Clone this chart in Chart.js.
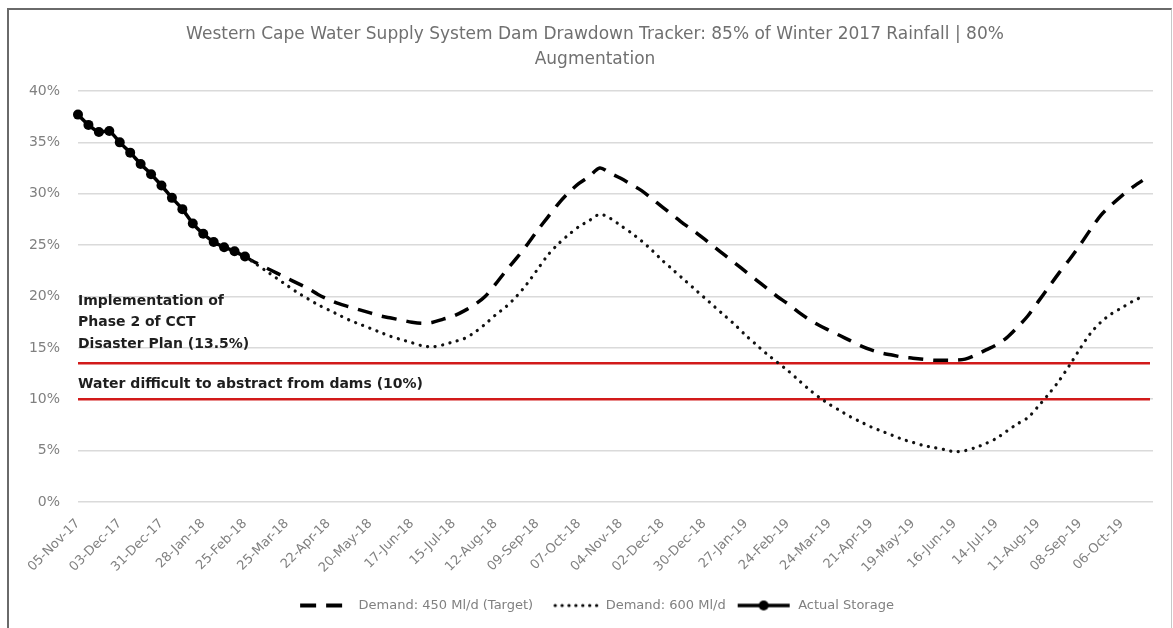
<!DOCTYPE html>
<html><head><meta charset="utf-8">
<script src="https://cdn.jsdelivr.net/npm/chart.js@4.4.1/dist/chart.umd.min.js"></script>
<style>
html,body{margin:0;padding:0;background:#fff;}
#wrap{position:relative;width:1173px;height:628px;overflow:hidden;background:#fff;}
#frame{position:absolute;left:7px;top:8px;width:1162px;height:640px;border-top:2px solid #6a6a6a;border-left:2px solid #6a6a6a;border-right:1px solid #c8c8c8;pointer-events:none;}
canvas{position:absolute;left:0;top:0;}
</style></head><body>
<div id="wrap"><canvas id="c"></canvas><div id="frame"></div></div>
<script>
// ---- data ----
const chartTitle = ['Western Cape Water Supply System Dam Drawdown Tracker: 85% of Winter 2017 Rainfall | 80%', 'Augmentation'];
const tickLabels = ['05-Nov-17','03-Dec-17','31-Dec-17','28-Jan-18','25-Feb-18','25-Mar-18','22-Apr-18','20-May-18','17-Jun-18','15-Jul-18','12-Aug-18','09-Sep-18','07-Oct-18','04-Nov-18','02-Dec-18','30-Dec-18','27-Jan-19','24-Feb-19','24-Mar-19','21-Apr-19','19-May-19','16-Jun-19','14-Jul-19','11-Aug-19','08-Sep-19','06-Oct-19'];
const weeksPerTick = 4;
const seriesNames = ['Demand: 450 Ml/d (Target)', 'Demand: 600 Ml/d', 'Actual Storage'];
// weekly actual storage (%) from 05-Nov-17
const actualStorage = [37.7,36.7,36.0,36.1,35.0,34.0,32.9,31.9,30.8,29.6,28.5,27.1,26.1,25.3,24.8,24.4,23.9];
// projections start at the last actual reading (week index 16)
const projectionStart = 16;
const demand450 = [23.9,23.3,22.8,22.3,21.8,21.3,20.8,20.2,19.7,19.3,19.0,18.7,18.4,18.1,17.9,17.7,17.5,17.4,17.5,17.8,18.1,18.6,19.2,20.0,21.2,22.5,23.7,25.0,26.4,27.7,29.0,30.1,31.0,31.7,32.5,32.0,31.5,30.9,30.3,29.5,28.7,27.9,27.1,26.4,25.6,24.8,24.0,23.2,22.4,21.6,20.8,20.0,19.3,18.5,17.8,17.2,16.7,16.2,15.7,15.2,14.8,14.5,14.3,14.1,14.0,13.9,13.8,13.8,13.8,13.9,14.3,14.8,15.3,16.0,17.0,18.1,19.5,20.9,22.3,23.6,25.0,26.5,27.9,28.9,29.8,30.6,31.3];
const demand600 = [23.9,23.2,22.5,21.8,21.1,20.4,19.8,19.2,18.7,18.2,17.7,17.3,16.9,16.5,16.1,15.8,15.5,15.2,15.1,15.3,15.6,15.9,16.5,17.3,18.2,19.0,20.0,21.2,22.6,24.0,25.1,26.0,26.8,27.4,28.0,27.6,26.9,26.2,25.4,24.5,23.5,22.6,21.7,20.8,19.9,19.0,18.1,17.2,16.2,15.3,14.4,13.6,12.8,11.9,11.0,10.2,9.5,8.9,8.3,7.8,7.3,6.9,6.5,6.1,5.8,5.5,5.3,5.1,4.9,5.0,5.3,5.7,6.2,6.9,7.6,8.2,9.3,10.5,11.8,13.3,14.9,16.4,17.5,18.3,18.9,19.5,20.0];
const yTicks = [0,5,10,15,20,25,30,35,40];
const phase2Level = 13.5;
const phase2Text = ['Implementation of', 'Phase 2 of CCT', 'Disaster Plan (13.5%)'];
const abstractLevel = 10;
const abstractText = 'Water difficult to abstract from dams (10%)';

// ---- build ----
const weekLabels = tickLabels.flatMap(t => [t].concat(Array(weeksPerTick - 1).fill('')));
const lead = Array(projectionStart).fill(null);

function makeSymbol(kind) {
  const c = document.createElement('canvas');
  c.width = 56; c.height = 14;
  const g = c.getContext('2d');
  g.strokeStyle = '#000'; g.fillStyle = '#000';
  g.beginPath();
  if (kind === 'dash') {
    g.lineWidth = 4; g.setLineDash([16, 10]);
    g.moveTo(4, 7); g.lineTo(50, 7); g.stroke();
  } else if (kind === 'dot') {
    g.lineWidth = 3.2; g.lineCap = 'round'; g.setLineDash([0.1, 6.8]);
    g.moveTo(12, 7); g.lineTo(54, 7); g.stroke();
  } else {
    g.lineWidth = 3.5; g.moveTo(2, 7); g.lineTo(54, 7); g.stroke();
    g.beginPath(); g.arc(28, 7, 5, 0, Math.PI * 2); g.fill();
  }
  return c;
}
const symbols = [makeSymbol('dash'), makeSymbol('dot'), makeSymbol('line')];

const refLines = {
  id: 'refLines',
  beforeDatasetsDraw(chart) {
    const {ctx, chartArea, scales: {y}} = chart;
    ctx.save();
    ctx.strokeStyle = '#d21a1a';
    ctx.lineWidth = 2.6;
    [phase2Level, abstractLevel].forEach(v => {
      const py = y.getPixelForValue(v);
      ctx.beginPath(); ctx.moveTo(chartArea.left, py); ctx.lineTo(chartArea.right - 3, py); ctx.stroke();
    });
    ctx.restore();
  },
  afterDatasetsDraw(chart) {
    const {ctx, chartArea, scales: {y}} = chart;
    ctx.save();
    ctx.font = 'bold 14px "DejaVu Sans", Verdana, sans-serif';
    ctx.fillStyle = '#1e1e1e';
    ctx.textBaseline = 'middle';
    const p = y.getPixelForValue(phase2Level);
    phase2Text.forEach((t, i) => ctx.fillText(t, chartArea.left, p - 19 - (phase2Text.length - 1 - i) * 21.5));
    ctx.fillText(abstractText, chartArea.left, y.getPixelForValue(abstractLevel) - 15);
    ctx.restore();
  }
};

// canvas is a little wider than the window so the title/legend centre matches the reference
const canvas = document.getElementById('c');
canvas.width = 1190; canvas.height = 628;
canvas.style.width = '1190px'; canvas.style.height = '628px';

new Chart(canvas, {
  type: 'line',
  data: {
    labels: weekLabels,
    datasets: [
      { label: seriesNames[0], data: lead.concat(demand450), borderColor: '#000', borderWidth: 3.5, borderDash: [15, 10], pointRadius: 0, tension: 0.3, fill: false, order: 2 },
      { label: seriesNames[1], data: lead.concat(demand600), borderColor: '#111', borderWidth: 3.2, borderDash: [0.1, 7.5], borderCapStyle: 'round', pointRadius: 0, tension: 0.3, fill: false, order: 1 },
      { label: seriesNames[2], data: actualStorage, borderColor: '#000', backgroundColor: '#000', borderWidth: 3.5, pointRadius: 5, pointBackgroundColor: '#000', pointBorderColor: '#000', pointBorderWidth: 0, tension: 0.2, fill: false, order: 0 }
    ]
  },
  options: {
    responsive: false,
    animation: false,
    devicePixelRatio: 1,
    layout: { padding: { left: 0, right: 0, top: 13, bottom: 6 } },
    plugins: {
      title: {
        display: true, text: chartTitle, color: '#707070',
        font: { family: '"DejaVu Sans", sans-serif', size: 17, weight: 'normal', lineHeight: 1.47 },
        padding: { top: 9, bottom: 19 }
      },
      legend: {
        position: 'bottom',
        labels: {
          usePointStyle: true, pointStyleWidth: 56, padding: 10,
          color: '#808080',
          font: { family: '"DejaVu Sans", sans-serif', size: 13 },
          generateLabels(chart) {
            return chart.data.datasets.map((ds, i) => ({
              text: ds.label, pointStyle: symbols[i], datasetIndex: i, hidden: false,
              fontColor: '#808080', lineWidth: 0, strokeStyle: 'rgba(0,0,0,0)', fillStyle: 'rgba(0,0,0,0)'
            }));
          }
        }
      },
      tooltip: { enabled: false }
    },
    scales: {
      x: {
        grid: { display: false, drawTicks: false },
        border: { display: false },
        ticks: {
          autoSkip: false, maxRotation: 45, minRotation: 45, padding: 14,
          color: '#808080', font: { family: '"DejaVu Sans", sans-serif', size: 13 }
        },
        afterFit(scale) { scale.height = 87; scale.paddingLeft = 0; scale.paddingRight = 37; }
      },
      y: {
        min: 0, max: 40,
        afterBuildTicks(scale) { scale.ticks = yTicks.map(v => ({ value: v })); },
        grid: { color: '#dadada', lineWidth: 1.5, drawTicks: false },
        border: { display: false },
        ticks: {
          padding: 18, color: '#808080',
          font: { family: '"DejaVu Sans", sans-serif', size: 14 },
          callback: v => v + '%'
        },
        afterFit(scale) { scale.width = 78; }
      }
    }
  },
  plugins: [refLines]
});
</script>
</body></html>
